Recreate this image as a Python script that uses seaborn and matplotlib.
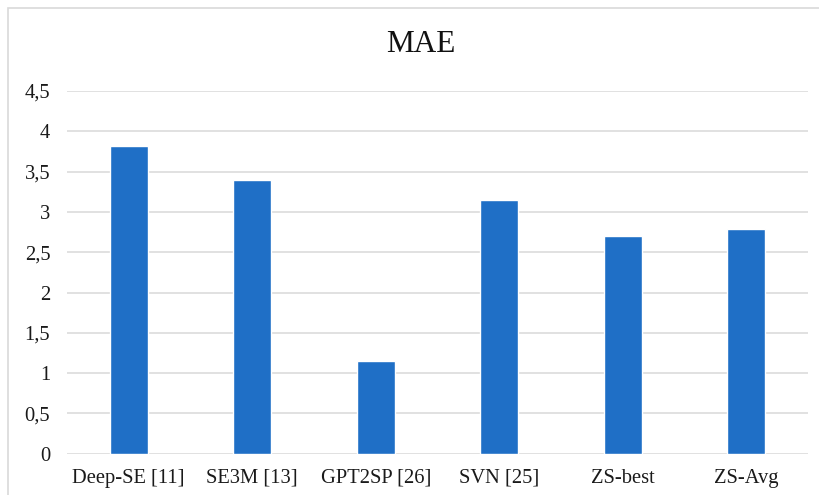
import matplotlib
matplotlib.use("Agg")
import matplotlib.pyplot as plt
import matplotlib.ticker as mticker
from matplotlib.patches import Rectangle
import seaborn as sns
import pandas as pd

# MAE per method
methods = ["Deep-SE [11]", "SE3M [13]", "GPT2SP [26]", "SVN [25]", "ZS-best", "ZS-Avg"]
mae = [3.82, 3.40, 1.15, 3.15, 2.70, 2.79]
y_ticks = [0, 0.5, 1, 1.5, 2, 2.5, 3, 3.5, 4, 4.5]

df = pd.DataFrame({"method": methods, "mae": mae})

sns.set_theme(style="white")
plt.rcParams["font.family"] = ["Liberation Serif", "DejaVu Serif"]

fig = plt.figure(figsize=(8.2, 4.95), dpi=100)
ax = fig.add_axes([67 / 820, 1 - 453.7 / 495, (808 - 67) / 820, (453.7 - 91) / 495])

sns.barplot(data=df, x="method", y="mae", color="#1F6FC6", width=0.31,
            saturation=1, ax=ax, zorder=3)

ax.set_ylim(0, 4.5)
ax.set_yticks(y_ticks)
ax.yaxis.set_major_formatter(mticker.FuncFormatter(
    lambda v, _: (f"{v:g}").replace(".", ",")))
ax.grid(axis="y", color="#D9D9D9", linewidth=1.1, zorder=0)
ax.set_xlabel("")
ax.set_ylabel("")
for s in ax.spines.values():
    s.set_visible(False)
ax.tick_params(axis="both", length=0, labelsize=14.8, colors="#1a1a1a")
ax.tick_params(axis="y", pad=12)
ax.tick_params(axis="x", pad=11)

fig.text(421 / 820, 1 - 44 / 495, "MAE", ha="center", va="center",
         fontsize=22.5, color="#111111")

# chart-area frame
fig.patches.append(Rectangle((8 / 820, -0.1), 1.2, 1 - 8 / 495 + 0.1,
                             transform=fig.transFigure, fill=False,
                             edgecolor="#D9D9D9", linewidth=1.2))

fig.savefig("out.png", dpi=100)
